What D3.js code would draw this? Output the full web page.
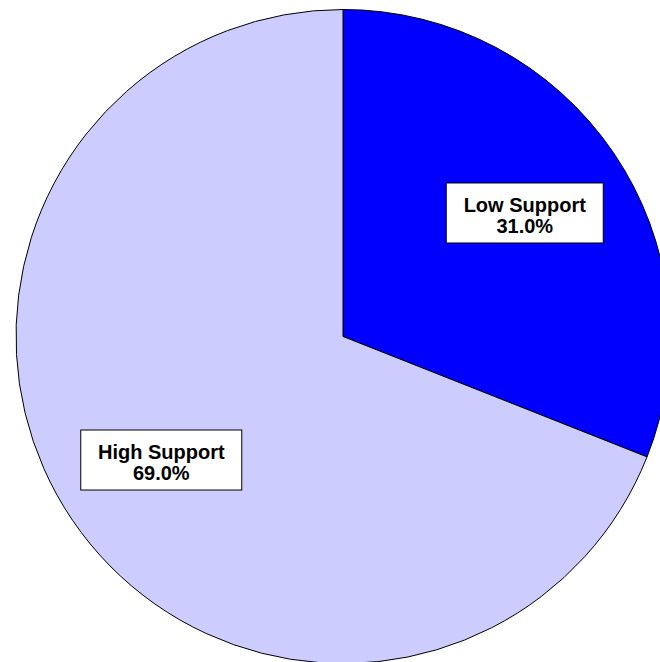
<!DOCTYPE html>
<html>
<head>
<meta charset="utf-8">
<script src="https://cdn.jsdelivr.net/npm/d3@7"></script>
<style>
html,body{margin:0;padding:0;background:#fff;overflow:hidden;}
svg{display:block;}
</style>
</head>
<body>
<svg id="chart" width="660" height="662"></svg>
<script>
const categories = ["Low Support", "High Support"];
const values = [31.0, 69.0];
const colors = ["#0000FF", "#CCCCFF"];

const svg = d3.select("#chart");
const cx = 343, cy = 336.5, r = 327;
const g = svg.append("g").attr("transform", `translate(${cx},${cy})`);

const data = categories.map((c, i) => ({ name: c, value: values[i], color: colors[i] }));
const pie = d3.pie().sort(null).value(d => d.value);
const arc = d3.arc().innerRadius(0).outerRadius(r);
const labelArc = d3.arc().innerRadius(r * 0.672).outerRadius(r * 0.672);

const arcs = pie(data);

g.selectAll("path.slice").data(arcs).enter().append("path")
  .attr("class", "slice")
  .attr("d", arc)
  .attr("fill", d => d.data.color)
  .attr("stroke", "#000")
  .attr("stroke-width", 1);

const labels = g.selectAll("g.label").data(arcs).enter().append("g")
  .attr("class", "label")
  .attr("transform", d => `translate(${labelArc.centroid(d)})`);

labels.each(function(d) {
  const el = d3.select(this);
  const rect = el.append("rect").attr("fill", "#fff").attr("stroke", "#000").attr("stroke-width", 1);
  const t = el.append("text")
    .attr("text-anchor", "middle")
    .style("font-family", "'Liberation Sans', Arial, sans-serif")
    .style("font-weight", "bold")
    .style("font-size", "20px")
    .attr("fill", "#000");
  t.append("tspan").attr("x", 0).attr("y", -1).text(d.data.name);
  t.append("tspan").attr("x", 0).attr("y", 20).text(d3.format(".1f")(d.data.value) + "%");
  const w = t.node().getBBox().width;
  const bw = Math.round(w + 34), bh = 60;
  rect.attr("x", -bw / 2).attr("y", -bh / 2).attr("width", bw).attr("height", bh);
});
</script>
</body>
</html>
